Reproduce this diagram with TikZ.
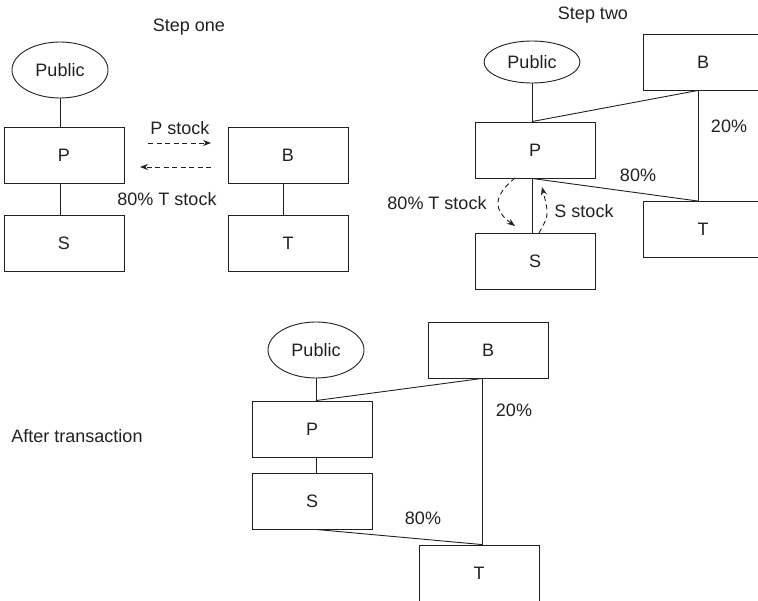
\documentclass[tikz,border=0pt]{standalone}
\usepackage{fontspec}
\setmainfont{Liberation Sans}
\usetikzlibrary{shapes.geometric,arrows.meta}
\definecolor{ink}{gray}{0.13}
\begin{document}
\begin{tikzpicture}[x=1pt,y=-1pt,
  font=\fontsize{18}{21}\selectfont, text=ink,
  box/.style={draw=ink,line width=0.9pt,minimum width=120pt,minimum height=56pt,inner sep=0pt},
  oval/.style={draw=ink,ellipse,line width=0.9pt,minimum width=96pt,minimum height=56pt,inner sep=0pt},
  link/.style={draw=ink,line width=0.9pt},
  flow/.style={draw=ink,line width=0.9pt,dash pattern=on 5pt off 3.5pt,-{Stealth[length=8pt,width=6pt]}},
  lbl/.style={inner sep=0pt}]
\useasboundingbox (0,0) rectangle (758,600);
\clip (0,0) rectangle (758,600);

% ---------- Step one ----------
\node[lbl] (t1) at (189,27) {Step one};
\node[oval] (pub1) at (60,70) {Public};
\node[box] (p1) at (64,155) {P};
\node[box] (s1) at (64,243) {S};
\node[box] (b1) at (288,155) {B};
\node[box] (tt1) at (288,243) {T};
\draw[link] (pub1.south) -- (pub1.south |- p1.north);
\draw[link] (pub1.south |- p1.south) -- (pub1.south |- s1.north);
\draw[link] ([xshift=-5pt]b1.south) -- ([xshift=-5pt]tt1.north);
\coordinate (r1a) at (148,143);
\coordinate (r1b) at (211,143);
\coordinate (l1a) at (211,167);
\coordinate (l1b) at (140,167);
\draw[flow] (r1a) -- (r1b);
\draw[flow] (l1a) -- (l1b);
\node[lbl] (ps1) at (180,128) {P stock};
\node[lbl] (ts1) at (167,199) {80\% T stock};

% ---------- Step two ----------
\node[lbl] (t2) at (593,15) {Step two};
\node[oval,minimum height=42pt] (pub2) at (532,62) {Public};
\node[box] (b2) at (703,62) {B};
\node[box] (p2) at (535,150) {P};
\node[box] (s2) at (535,261) {S};
\node[box] (tt2) at (703,229.5) {T};
\coordinate (p2n) at (pub2.south |- p2.north);
\coordinate (p2s) at (pub2.south |- p2.south);
\coordinate (b2s) at ([xshift=-5pt]b2.south);
\coordinate (t2n) at ([xshift=-5pt]tt2.north);
\draw[link] (pub2.south) -- (p2n);
\draw[link] (p2n) -- (b2s);
\draw[link] (b2s) -- (t2n);
\draw[link] (p2s) -- (t2n);
\draw[link] (p2s) -- (pub2.south |- s2.north);
\node[lbl] (pc20) at (729,126) {20\%};
\node[lbl] (pc80) at (638,175) {80\%};
\node[lbl] (ts2) at (437,203) {80\% T stock};
\node[lbl] (ss2) at (584,211) {S stock};
\coordinate (d2a) at (515,178);
\coordinate (d2b) at (515,226);
\coordinate (u2a) at (539,233);
\coordinate (u2b) at (542,187);
\draw[flow] (d2a) .. controls (493,196) and (493,210) .. (d2b);
\draw[flow] (u2a) .. controls (549,215) .. (u2b);

% ---------- After transaction ----------
\node[lbl] (t3) at (77,436) {After transaction};
\node[oval] (pub3) at (316,350) {Public};
\node[box] (b3) at (488,350) {B};
\node[box] (p3) at (312,429) {P};
\node[box] (s3) at (312,501) {S};
\node[box] (tt3) at (479,573) {T};
\coordinate (p3n) at (pub3.south |- p3.north);
\coordinate (b3s) at ([xshift=-6pt]b3.south);
\coordinate (t3n) at ([xshift=3pt]tt3.north);
\draw[link] (pub3.south) -- (p3n);
\draw[link] (p3n) -- (b3s);
\draw[link] (b3s) -- (t3n);
\draw[link] (pub3.south |- p3.south) -- (pub3.south |- s3.north);
\draw[link] (pub3.south |- s3.south) -- (t3n);
\node[lbl] (pc20b) at (514,410) {20\%};
\node[lbl] (pc80b) at (423,518) {80\%};
\end{tikzpicture}
\end{document}
